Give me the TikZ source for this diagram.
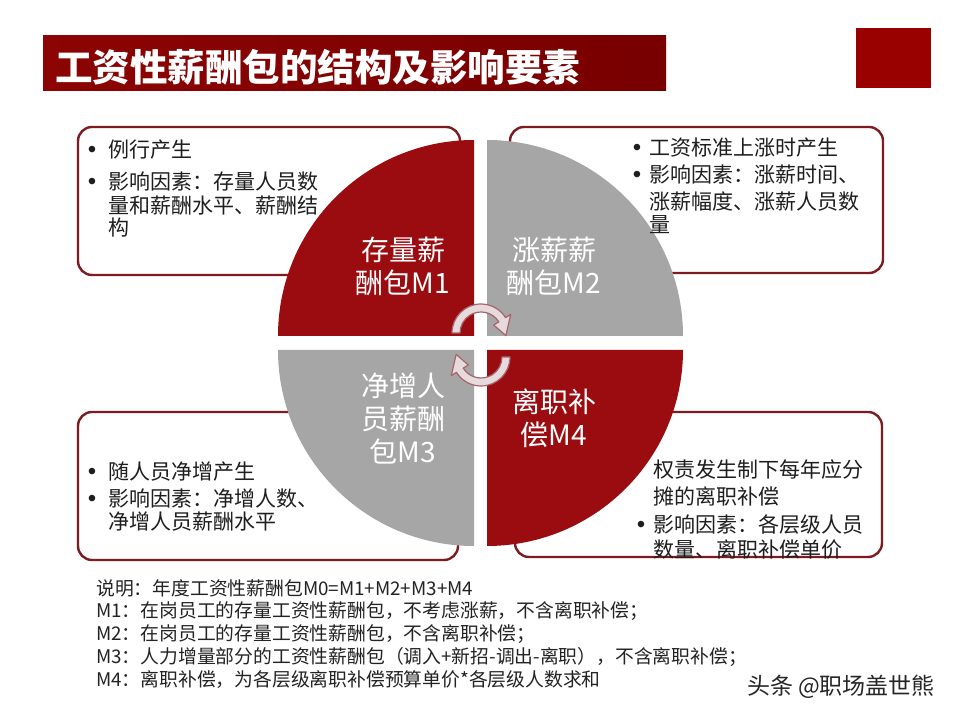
\documentclass[tikz,border=0pt]{standalone}
\usepackage{fontspec}
\newfontfamily\cjk{Noto Sans CJK SC}
\newfontfamily\bulfont{Liberation Sans}
\definecolor{qred}{RGB}{155,12,16}
\definecolor{qgray}{RGB}{166,166,166}
\definecolor{boxred}{RGB}{125,28,32}
\definecolor{titleA}{RGB}{140,4,4}
\definecolor{titleB}{RGB}{120,0,0}
\definecolor{sqred}{RGB}{153,0,0}
\definecolor{arrfill}{RGB}{230,218,220}
\definecolor{arrline}{RGB}{165,100,108}
\definecolor{txt}{RGB}{30,30,30}
\definecolor{notetxt}{RGB}{35,35,35}
\begin{document}
\begin{tikzpicture}[x=1pt,y=1pt,
  infobox/.style={draw=boxred, line width=2.4pt, rounded corners=14pt, fill=white, inner sep=0pt},
  boxtxt/.style={anchor=west, inner sep=0pt, text=txt, font=\cjk\fontsize{21}{25}\selectfont, text height=18.5pt, text depth=2.5pt},
  bul/.style={anchor=base, inner sep=0pt, text=txt, font=\bulfont\fontsize{24}{24}\selectfont},
  qlabel/.style={align=center, inner sep=0pt, text=white, font=\cjk\fontsize{28}{33}\selectfont},
  notetxt/.style={anchor=west, inner sep=0pt, text=notetxt, font=\cjk\fontsize{18.8}{21}\selectfont, text height=16.5pt, text depth=2.3pt},
  arrowshape/.style={fill=arrfill, draw=arrline, line width=1.2pt, line join=round}
]
\useasboundingbox (0,0) rectangle (960,720);
\fill[white] (0,0) rectangle (960,720);

% title bar and square
\shade[left color=titleA, right color=titleB] (43,629) rectangle (666,684);
\node[anchor=west, inner sep=0pt, text=white, font=\cjk\bfseries\fontsize{37.5}{40}\selectfont] (title) at (55,653) {工资性薪酬包的结构及影响要素};
\fill[sqred] (856,632) rectangle (931,692);

% info boxes
\node[infobox, minimum width=382pt, minimum height=148pt] (boxA) at (269,519) {};
\node[infobox, minimum width=373pt, minimum height=146pt] (boxB) at (696.5,520) {};
\node[infobox, minimum width=380pt, minimum height=148pt] (boxC) at (268,234) {};
\node[infobox, minimum width=367pt, minimum height=145pt] (boxD) at (698.5,235.5) {};

% quadrants
\fill[qred] (474,384) -- (278,384) arc[start angle=180,end angle=90,radius=196] -- cycle;
\fill[qgray] (487,384) -- (487,580) arc[start angle=90,end angle=0,radius=196] -- cycle;
\fill[qgray] (474,370) -- (278,370) arc[start angle=180,end angle=270,radius=196] -- cycle;
\fill[qred] (487,370) -- (683,370) arc[start angle=0,end angle=-90,radius=196] -- cycle;

% quadrant labels
\node[qlabel] (m1) at (403,453.5) {存量薪\\酬包M1};
\node[qlabel] (m2) at (554,453.5) {涨薪薪\\酬包M2};
\node[qlabel] (m3) at (403,301.5) {净增人\\员薪酬\\包M3};
\node[qlabel] (m4) at (554,301.5) {离职补\\偿M4};

% circular arrows
\begin{scope}[shift={(481,387)}]
\draw[arrowshape] (180:29) arc[start angle=180,end angle=32,radius=29] -- (32:35) -- (-6:25) -- (32:15) -- (32:21) arc[start angle=32,end angle=180,radius=21] -- cycle;
\end{scope}
\begin{scope}[shift={(481,363)}]
\draw[arrowshape] (0:29) arc[start angle=0,end angle=-148,radius=29] -- (-148:35) -- (-186:25) -- (-148:15) -- (-148:21) arc[start angle=-148,end angle=0,radius=21] -- cycle;
\end{scope}

% box A text
\node[bul] (a0) at (92,562) {•};
\node[boxtxt] (a1) at (108,570) {例行产生};
\node[bul] (a2) at (92,530) {•};
\node[boxtxt] (a3) at (108,538) {影响因素：存量人员数};
\node[boxtxt] (a4) at (108,514) {量和薪酬水平、薪酬结};
\node[boxtxt] (a5) at (108,492) {构};

% box B text
\node[bul] (b0) at (637,564) {•};
\node[boxtxt] (b1) at (649,572) {工资标准上涨时产生};
\node[bul] (b2) at (637,537) {•};
\node[boxtxt] (b3) at (649,545) {影响因素：涨薪时间、};
\node[boxtxt] (b4) at (649,518) {涨薪幅度、涨薪人员数};
\node[boxtxt] (b5) at (649,495) {量};

% box C text
\node[bul] (c0) at (92,240) {•};
\node[boxtxt] (c1) at (108,248) {随人员净增产生};
\node[bul] (c2) at (92,213) {•};
\node[boxtxt] (c3) at (108,221) {影响因素：净增人数、};
\node[boxtxt] (c4) at (108,198) {净增人员薪酬水平};

% box D text
\node[boxtxt] (d1) at (653,250) {权责发生制下每年应分};
\node[boxtxt] (d2) at (653,223) {摊的离职补偿};
\node[bul] (d3) at (641,187) {•};
\node[boxtxt] (d4) at (653,195) {影响因素：各层级人员};
\node[boxtxt] (d5) at (653,170) {数量、离职补偿单价};

% notes
\node[notetxt] (n0) at (96,132) {说明：年度工资性薪酬包M0=M1+M2+M3+M4};
\node[notetxt] (n1) at (96,110) {M1：在岗员工的存量工资性薪酬包，不考虑涨薪，不含离职补偿；};
\node[notetxt] (n2) at (96,87) {M2：在岗员工的存量工资性薪酬包，不含离职补偿；};
\node[notetxt] (n3) at (96,64) {M3：人力增量部分的工资性薪酬包（调入+新招-调出-离职），不含离职补偿；};
\node[notetxt] (n4) at (96,41) {M4：离职补偿，为各层级离职补偿预算单价*各层级人数求和};

% watermark
\node[inner sep=0pt, text=black!85, font=\cjk\fontsize{23}{26}\selectfont] (wm) at (841,33) {头条 @职场盖世熊};
\end{tikzpicture}
\end{document}
